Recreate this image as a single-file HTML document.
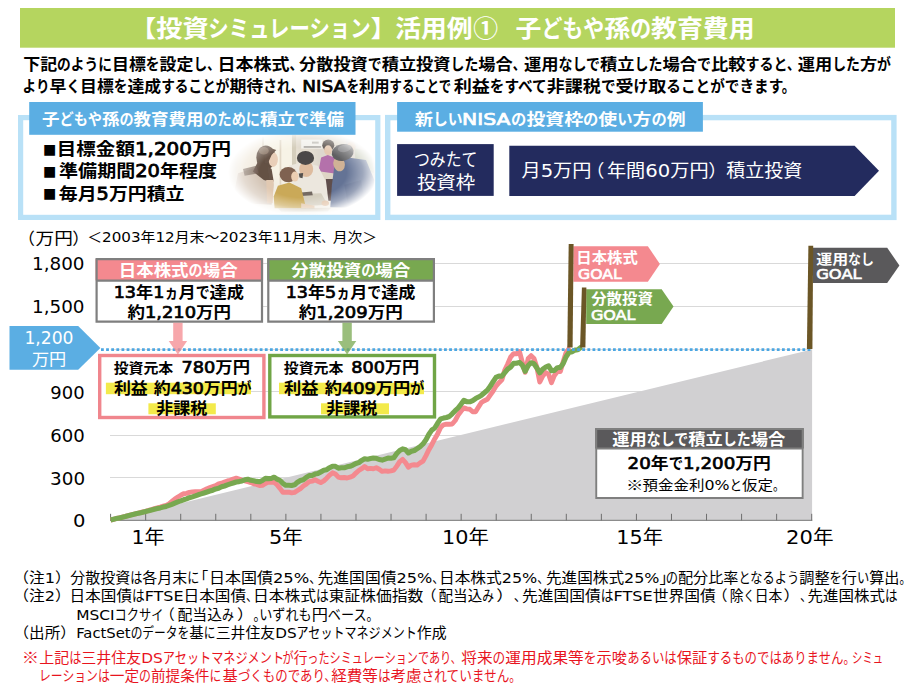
<!DOCTYPE html>
<html lang="ja">
<head>
<meta charset="utf-8">
<title>投資シミュレーション 活用例① 子どもや孫の教育費用</title>
<style>
html,body{margin:0;padding:0;background:#fff}
body{width:914px;height:689px;overflow:hidden}
svg{display:block}
text{white-space:pre;text-spacing-trim:space-all}
</style>
</head>
<body>
<svg width="914" height="689" viewBox="0 0 914 689" font-family='"DejaVu Sans","Liberation Sans","Noto Sans CJK JP",sans-serif'>
<rect width="914" height="689" fill="#fff"/>
<rect x="20" y="8" width="875" height="39.7" fill="#b5d55f"/>
<rect x="20.6" y="117.6" width="357.2" height="99.8" fill="#fff" stroke="#b9e1f7" stroke-width="5.2"/>
<defs>
<radialGradient id="pm" cx="0.5" cy="0.5" r="0.5"><stop offset="0" stop-color="#fff"/><stop offset="0.58" stop-color="#fff"/><stop offset="0.8" stop-color="#fff" stop-opacity="0.62"/><stop offset="1" stop-color="#fff" stop-opacity="0"/></radialGradient>
<mask id="pmask" maskUnits="userSpaceOnUse" x="225" y="128" width="156" height="92"><ellipse cx="303" cy="172.5" rx="75" ry="43.5" fill="url(#pm)"/></mask>
<filter id="pblur" x="-10%" y="-10%" width="120%" height="120%"><feGaussianBlur stdDeviation="0.75"/></filter>
<filter id="pblur2" x="-20%" y="-20%" width="140%" height="140%"><feGaussianBlur stdDeviation="2.2"/></filter>
<clipPath id="pclip"><rect x="226" y="134.8" width="149" height="80"/></clipPath>
</defs>
<g clip-path="url(#pclip)"><g mask="url(#pmask)">
<rect x="224.7" y="130.0" width="156.3" height="89.8" fill="#e4dccd"/>
<g filter="url(#pblur2)">
<rect x="261.3" y="135.0" width="33.3" height="49.9" fill="#f6f1e2"/>
<rect x="238.0" y="136.7" width="24.9" height="43.2" fill="#efe6d6"/>
<rect x="294.5" y="135.0" width="83.2" height="15.0" fill="#ddd5c6"/>
<rect x="314.5" y="146.6" width="63.2" height="33.3" fill="#d9d2c6"/>
<rect x="224.7" y="196.5" width="156.3" height="23.3" fill="#efeadf"/>
<rect x="269.6" y="179.9" width="24.9" height="20.0" fill="#f2ecdf"/>
</g>
<g filter="url(#pblur)">
<rect x="262.1" y="136.7" width="1.7" height="48.2" fill="#d9ceb8"/>
<rect x="279.6" y="140.0" width="1.7" height="44.9" fill="#dcd2be"/>
<rect x="292.0" y="135.0" width="4.2" height="36.6" fill="#cfc6b2"/>
<rect x="301.2" y="139.6" width="21.3" height="9.0" fill="#f2f0ea"/>
<rect x="303.7" y="146.3" width="17.5" height="1.3" fill="#8a8680"/>
<rect x="312.0" y="141.6" width="6.7" height="2.0" fill="#b9b6ae"/>
<ellipse cx="352.4" cy="142.0" rx="6.7" ry="6.3" fill="#d2cdc6"/>
<ellipse cx="351.4" cy="146.6" rx="4.3" ry="5.0" fill="#d9bfa6"/>
<polygon points="354.4,148.3 371.0,151.6 374.3,173.2 356.1,166.6" fill="#bfc4ae"/>
<ellipse cx="328.3" cy="145.3" rx="6.0" ry="5.7" fill="#3a302c"/>
<ellipse cx="328.1" cy="150.3" rx="4.0" ry="5.0" fill="#e2c2a6"/>
<polygon points="321.1,157.4 327.8,154.9 336.1,158.3 339.8,171.6 334.4,177.4 323.6,178.2 319.1,168.2" fill="#a85a9e"/>
<polygon points="320.5,171.6 334.4,173.6 336.1,179.9 323.6,181.9" fill="#d9cdbc"/>
<polygon points="288.7,165.8 301.2,162.4 317.8,165.8 327.8,184.9 329.4,201.5 306.2,196.5 294.5,191.5" fill="#e9e4d9"/>
<ellipse cx="306.2" cy="169.1" rx="7.0" ry="8.0" fill="#d9b290"/>
<ellipse cx="305.5" cy="157.9" rx="8.6" ry="7.0" fill="#2f2b29"/>
<polygon points="298.7,173.6 303.2,172.9 302.5,178.2 299.5,177.4" fill="#3a3430"/>
<polygon points="294.5,194.0 321.1,193.2 327.8,204.8 297.8,206.5" fill="#cfc7b6"/>
<polygon points="295.4,192.9 312.0,191.5 312.8,195.2 297.0,196.2" fill="#5b5148"/>
<ellipse cx="325.3" cy="203.2" rx="3.7" ry="2.7" fill="#dcb898"/>
<polygon points="325.8,179.1 335.8,179.1 334.4,200.7 328.4,200.7" fill="#45302f"/>
<polygon points="238.0,173.2 256.3,167.4 271.6,171.6 273.7,184.9 271.6,204.8 243.0,203.2 234.7,189.9" fill="#cdbcab"/>
<ellipse cx="265.9" cy="157.4" rx="9.6" ry="12.0" fill="#4b3527"/>
<polygon points="258.8,159.9 269.6,165.8 272.6,182.4 263.8,179.9 252.9,171.6" fill="#4b3527"/>
<ellipse cx="273.2" cy="159.6" rx="4.7" ry="7.3" fill="#e6c8ae"/>
<polygon points="265.9,146.6 276.2,150.0 271.6,154.9 267.9,163.3 264.9,163.3" fill="#4f392b"/>
<ellipse cx="263.8" cy="150.8" rx="5.0" ry="3.7" fill="#8a715c" opacity="0.7"/>
<polygon points="267.2,165.8 271.6,169.1 273.7,181.6 269.6,179.9" fill="#4f392b"/>
<polygon points="243.0,169.1 256.3,165.8 258.8,173.2 244.6,175.7" fill="#5a4334" opacity="0.7"/>
<polygon points="266.2,179.9 273.7,179.9 272.6,203.2 267.1,203.2" fill="#ddc0a6"/>
<polygon points="277.9,185.7 289.5,182.4 301.2,188.2 306.2,208.2 274.6,208.2 273.7,196.5" fill="#c29b3d"/>
<ellipse cx="288.2" cy="174.6" rx="8.6" ry="7.6" fill="#6b4a34"/>
<ellipse cx="294.9" cy="176.6" rx="3.7" ry="5.0" fill="#e8c6a6"/>
<polygon points="301.2,203.2 314.5,205.7 314.5,209.0 301.2,208.2" fill="#e0bf9f"/>
<polygon points="334.4,165.8 347.7,157.4 366.0,159.9 374.3,179.9 371.0,208.2 330.3,207.3 331.9,184.9" fill="#4b5d84"/>
<ellipse cx="339.1" cy="164.1" rx="5.7" ry="7.3" fill="#c9a685" transform="rotate(-15 339.1 164.1)"/>
<ellipse cx="342.7" cy="152.5" rx="11.0" ry="8.3" fill="#454446" transform="rotate(-10 342.7 152.5)"/>
<ellipse cx="344.4" cy="148.3" rx="6.7" ry="3.7" fill="#77767a" transform="rotate(-10 344.4 148.3)" opacity="0.7"/>
<polygon points="344.4,184.9 361.0,179.9 364.4,199.8 347.7,203.2" fill="#3f5078" opacity="0.7"/>
<polygon points="277.9,208.2 331.1,207.8 327.8,211.5 281.2,211.8" fill="#b9ad98" opacity="0.6"/>
</g>
<rect x="226" y="130" width="150" height="90" fill="#fff" opacity="0.14"/>
</g></g>
<rect x="29.2" y="102" width="326.3" height="32.8" fill="#5baee3"/>
<rect x="387.7" y="117.6" width="506.2" height="99.8" fill="#fff" stroke="#b9e1f7" stroke-width="5.4"/>
<rect x="397.1" y="102" width="305.8" height="29.7" fill="#5baee3"/>
<rect x="397.1" y="144.1" width="96.6" height="51.8" fill="#232b5e"/>
<polygon points="509.3,145.8 854.6,145.8 879,170.8 854.6,195.9 509.3,195.9" fill="#232b5e"/>
<line x1="110.0" y1="263.50" x2="808.7" y2="263.50" stroke="#d9d9d9" stroke-width="1"/>
<line x1="110.0" y1="306.50" x2="808.7" y2="306.50" stroke="#d9d9d9" stroke-width="1"/>
<line x1="110.0" y1="391.50" x2="808.7" y2="391.50" stroke="#d9d9d9" stroke-width="1"/>
<line x1="110.0" y1="435.50" x2="808.7" y2="435.50" stroke="#d9d9d9" stroke-width="1"/>
<line x1="110.0" y1="477.50" x2="808.7" y2="477.50" stroke="#d9d9d9" stroke-width="1"/>
<polygon points="110.6,520.4 812.1,349.4 812.1,520.4" fill="#d1d0d2"/>
<line x1="110.6" y1="349.6" x2="811.7" y2="349.6" stroke="#e0dcd8" stroke-width="1"/>
<line x1="110.0" y1="520.4" x2="812.3" y2="520.4" stroke="#8c8c8c" stroke-width="1.2"/>
<path d="M110.60 520.4V513.8M145.66 520.4V513.8M180.71 520.4V513.8M215.76 520.4V513.8M250.82 520.4V513.8M285.88 520.4V513.8M320.93 520.4V513.8M355.99 520.4V513.8M391.04 520.4V513.8M426.10 520.4V513.8M461.15 520.4V513.8M496.21 520.4V513.8M531.26 520.4V513.8M566.31 520.4V513.8M601.37 520.4V513.8M636.43 520.4V513.8M671.48 520.4V513.8M706.53 520.4V513.8M741.59 520.4V513.8M776.64 520.4V513.8M811.70 520.4V513.8" stroke="#6e6e6e" stroke-width="1" fill="none"/>
<polyline points="110.6,520.0 113.5,519.3 116.4,518.5 119.4,517.8 122.3,517.1 125.2,516.4 128.1,515.6 131.0,514.9 134.0,514.2 136.9,513.5 139.8,512.7 142.7,512.0 145.6,511.3 148.6,510.4 151.5,509.6 154.4,508.7 157.3,507.9 160.2,507.1 163.2,506.2 166.1,505.4 169.0,503.9 171.9,501.5 174.8,499.0 177.8,497.0 180.7,495.3 183.6,493.8 186.5,493.4 189.4,492.4 192.4,491.9 195.3,491.6 198.2,491.7 201.1,491.6 204.0,490.1 207.0,488.7 209.9,487.6 212.8,486.6 215.7,485.6 218.6,483.9 221.6,483.2 224.5,482.0 227.4,481.0 230.3,480.3 233.2,479.0 236.2,478.2 239.1,479.1 242.0,480.1 244.9,480.8 247.8,481.7 250.8,482.6 253.7,483.8 256.6,484.4 259.5,485.5 262.4,485.3 265.4,483.5 268.3,482.1 271.2,482.4 274.1,482.4 277.0,484.7 280.0,488.4 282.9,492.3 285.8,492.2 288.7,492.2 291.6,492.9 294.6,492.3 297.5,490.5 300.4,488.7 303.3,486.0 306.2,484.1 309.2,481.7 312.1,481.2 315.0,479.8 317.9,481.2 320.8,482.6 323.8,480.9 326.7,478.2 329.6,475.1 332.5,472.8 335.4,474.0 338.4,477.1 341.3,477.8 344.2,477.5 347.1,478.0 350.0,477.2 353.0,476.0 355.9,473.1 358.8,470.5 361.7,468.7 364.6,466.6 367.6,468.7 370.5,468.4 373.4,468.8 376.3,467.8 379.2,469.3 382.2,471.4 385.1,470.9 388.0,471.3 390.9,470.9 393.8,470.1 396.8,466.1 399.7,461.6 402.6,459.4 405.5,462.6 408.4,467.2 411.4,465.1 414.3,464.7 417.2,465.1 420.1,462.9 423.0,461.2 426.0,455.6 428.9,449.7 431.8,444.7 434.7,438.9 437.6,433.9 440.6,427.4 443.5,424.8 446.4,424.2 449.3,424.3 452.2,424.0 455.2,420.5 458.1,415.1 461.0,411.2 463.9,407.9 466.8,408.9 469.8,409.2 472.7,411.8 475.6,411.7 478.5,407.0 481.4,402.5 484.4,400.7 487.3,399.3 490.2,395.2 493.1,391.1 496.0,386.1 499.0,382.7 501.9,379.8 504.8,370.0 507.7,364.0 510.6,357.1 513.6,353.7 516.5,353.8 519.4,351.5 522.3,362.1 525.2,372.3 528.2,358.5 531.1,355.7 534.0,358.5 536.9,367.4 539.8,382.0 542.8,375.9 545.7,372.6 548.6,374.2 551.5,382.7 554.4,375.4 557.4,371.5 560.3,371.5 563.2,361.7 566.1,352.5 569.0,348.6 570.0,347.6" fill="none" stroke="#f4898f" stroke-width="4.9" stroke-linejoin="round" stroke-linecap="butt"/>
<polyline points="110.6,520.0 113.5,519.3 116.4,518.6 119.4,517.9 122.3,517.2 125.2,516.5 128.1,515.7 131.0,515.0 134.0,514.3 136.9,513.6 139.8,512.9 142.7,512.2 145.6,511.5 148.6,510.8 151.5,510.0 154.4,509.3 157.3,508.6 160.2,507.9 163.2,507.1 166.1,506.4 169.0,505.4 171.9,504.3 174.8,503.1 177.8,501.9 180.7,500.9 183.6,499.8 186.5,498.9 189.4,497.7 192.4,496.9 195.3,495.9 198.2,494.8 201.1,493.9 204.0,493.0 207.0,492.0 209.9,491.0 212.8,490.2 215.7,488.9 218.6,488.3 221.6,486.8 224.5,486.0 227.4,484.9 230.3,483.9 233.2,483.0 236.2,482.0 239.1,481.6 242.0,480.9 244.9,479.8 247.8,479.2 250.8,480.3 253.7,480.7 256.6,481.4 259.5,481.8 262.4,480.5 265.4,478.4 268.3,478.6 271.2,478.5 274.1,477.2 277.0,479.1 280.0,480.5 282.9,483.4 285.8,485.3 288.7,485.3 291.6,485.5 294.6,484.8 297.5,482.2 300.4,480.5 303.3,479.7 306.2,477.4 309.2,475.6 312.1,475.5 315.0,474.1 317.9,473.5 320.8,471.9 323.8,470.2 326.7,469.7 329.6,467.7 332.5,466.2 335.4,466.3 338.4,468.2 341.3,467.8 344.2,467.8 347.1,466.8 350.0,466.3 353.0,465.1 355.9,463.5 358.8,462.6 361.7,460.4 364.6,458.8 367.6,459.2 370.5,458.6 373.4,458.1 376.3,458.3 379.2,459.5 382.2,460.1 385.1,459.1 388.0,458.1 390.9,458.3 393.8,457.8 396.8,453.5 399.7,450.5 402.6,448.9 405.5,449.8 408.4,453.0 411.4,451.3 414.3,450.5 417.2,448.6 420.1,446.6 423.0,443.9 426.0,439.7 428.9,434.3 431.8,430.1 434.7,428.0 437.6,423.3 440.6,418.9 443.5,418.1 446.4,417.5 449.3,416.5 452.2,413.8 455.2,410.7 458.1,408.0 461.0,404.2 463.9,400.3 466.8,401.6 469.8,401.8 472.7,400.6 475.6,398.6 478.5,397.1 481.4,395.3 484.4,392.7 487.3,390.2 490.2,386.4 493.1,381.7 496.0,377.4 499.0,376.0 501.9,376.1 504.8,372.6 507.7,369.1 510.6,367.1 513.6,363.4 516.5,363.2 519.4,362.4 522.3,365.2 525.2,371.3 528.2,365.5 531.1,362.7 534.0,363.7 536.9,368.0 539.8,372.9 542.8,369.1 545.7,367.2 548.6,365.9 551.5,370.6 554.4,370.5 557.4,367.7 560.3,367.4 563.2,363.5 566.1,356.7 569.0,352.5 572.0,351.8 574.9,350.1 577.8,349.7 580.7,347.4 581.8,346.8" fill="none" stroke="#78a850" stroke-width="5.1" stroke-linejoin="round" stroke-linecap="butt"/>
<line x1="101" y1="349.6" x2="812.2" y2="349.6" stroke="#4ba6e2" stroke-width="2.6" stroke-dasharray="2.8 2.32"/>
<polygon points="9.5,326 78.2,326 100.4,347.9 78.2,369.7 9.5,369.7" fill="#5baee3"/>
<rect x="95.5" y="258.2" width="167.6" height="64.4" fill="#fff"/>
<rect x="95.5" y="259" width="167.6" height="21.4" fill="#f4898f"/>
<path d="M96.6 259.2H262.0V321.6H96.6ZM96.6 280.6H262.0" fill="none" stroke="#7f7f7f" stroke-width="2.2"/>
<rect x="267.2" y="258.2" width="167.8" height="64.4" fill="#fff"/>
<rect x="267.2" y="259" width="167.8" height="21.4" fill="#78a850"/>
<path d="M268.3 259.2H433.9V321.6H268.3ZM268.3 280.6H433.9" fill="none" stroke="#7f7f7f" stroke-width="2.2"/>
<polygon points="173.2,322.8 182.6,322.8 182.6,341 187.1,341 177.9,354.6 168.7,341 173.2,341" fill="#f4898f" fill-opacity="0.75"/>
<polygon points="342.4,322.8 351.8,322.8 351.8,341 356.3,341 347.1,354.6 337.9,341 342.4,341" fill="#78a850" fill-opacity="0.75"/>
<rect x="99.7" y="355.5" width="164.2" height="62" fill="none" stroke="#f0868d" stroke-width="3.4"/>
<rect x="269.8" y="355.5" width="164.7" height="61.4" fill="none" stroke="#70a546" stroke-width="3.4"/>
<rect x="105.9" y="382.7" width="145.1" height="11.5" fill="#f3ea4b"/>
<rect x="148.4" y="403.3" width="67.4" height="11.0" fill="#f3ea4b"/>
<rect x="279.0" y="382.7" width="145.0" height="11.5" fill="#f3ea4b"/>
<rect x="321.0" y="403.3" width="68.0" height="11.0" fill="#f3ea4b"/>
<polygon points="573.4,246.2 647.9,246.2 659.9,264 647.9,281.7 573.4,281.7" fill="#f4898f"/>
<polygon points="586.2,289.2 661.7,289.2 673.5,306.6 661.7,324 586.2,324" fill="#78a850"/>
<polygon points="813,247.8 887.2,247.8 899.4,265.4 887.2,282.9 813,282.9" fill="#5a595b"/>
<polygon points="568.7,243.9 573.6,243.9 572.6,347.6 567.3,347.6" fill="#6b5626"/>
<polygon points="581.9,287.6 586.4,287.6 585.4,347.4 580.1,347.4" fill="#6b5626"/>
<polygon points="808.4,245.8 813.2,245.8 812.4,349 806.9,349" fill="#6b5626"/>
<rect x="595.2" y="428.1" width="208.5" height="70.9" fill="#fff"/>
<rect x="595.2" y="428.1" width="208.5" height="20.5" fill="#5a595b"/>
<path d="M596.2 429.1H802.7V498H596.2ZM596.2 448.6H802.7" fill="none" stroke="#7f7f7f" stroke-width="2"/>
<text aria-label="【投資シミュレーション】活用例①子どもや孫の教育費用" y="37.41" font-size="23.5" font-weight="bold" fill="#ffffff"><tspan x="130.05" textLength="26.19" lengthAdjust="spacingAndGlyphs">【</tspan><tspan textLength="52.37" lengthAdjust="spacingAndGlyphs">投資</tspan><tspan x="208.35" textLength="162.31" lengthAdjust="spacingAndGlyphs">シミュレーション</tspan><tspan textLength="25.17" lengthAdjust="spacingAndGlyphs">】</tspan><tspan x="395.2" textLength="77.34" lengthAdjust="spacingAndGlyphs">活用例</tspan><tspan x="473.25" font-family='"Noto Sans CJK JP",sans-serif' textLength="24.78" lengthAdjust="spacingAndGlyphs">①</tspan><tspan x="515.5" textLength="25.88" lengthAdjust="spacingAndGlyphs">子</tspan><tspan textLength="62.89" lengthAdjust="spacingAndGlyphs">どもや</tspan><tspan textLength="25.88" lengthAdjust="spacingAndGlyphs">孫</tspan><tspan textLength="20.96" lengthAdjust="spacingAndGlyphs">の</tspan><tspan textLength="103.52" lengthAdjust="spacingAndGlyphs">教育費用</tspan></text>
<text aria-label="下記のように目標を設定し、日本株式、分散投資で積立投資した場合、運用なしで積立した場合で比較すると、運用した方が" y="69.86" font-size="15.99" font-weight="bold" fill="#000000"><tspan x="23.25" textLength="33.87" lengthAdjust="spacingAndGlyphs">下記</tspan><tspan textLength="54.87" lengthAdjust="spacingAndGlyphs">のように</tspan><tspan textLength="33.87" lengthAdjust="spacingAndGlyphs">目標</tspan><tspan textLength="13.72" lengthAdjust="spacingAndGlyphs">を</tspan><tspan textLength="33.87" lengthAdjust="spacingAndGlyphs">設定</tspan><tspan textLength="13.72" lengthAdjust="spacingAndGlyphs">し</tspan><tspan textLength="12.7" lengthAdjust="spacingAndGlyphs">、</tspan><tspan x="217.45" textLength="72.15" lengthAdjust="spacingAndGlyphs">日本株式</tspan><tspan textLength="13.53" lengthAdjust="spacingAndGlyphs">、</tspan><tspan x="299.05" textLength="68.75" lengthAdjust="spacingAndGlyphs">分散投資</tspan><tspan textLength="13.92" lengthAdjust="spacingAndGlyphs">で</tspan><tspan textLength="68.75" lengthAdjust="spacingAndGlyphs">積立投資</tspan><tspan textLength="27.84" lengthAdjust="spacingAndGlyphs">した</tspan><tspan textLength="34.37" lengthAdjust="spacingAndGlyphs">場合</tspan><tspan textLength="12.89" lengthAdjust="spacingAndGlyphs">、</tspan><tspan x="524.0" textLength="34.53" lengthAdjust="spacingAndGlyphs">運用</tspan><tspan textLength="41.54" lengthAdjust="spacingAndGlyphs">なしで</tspan><tspan textLength="34.53" lengthAdjust="spacingAndGlyphs">積立</tspan><tspan textLength="27.97" lengthAdjust="spacingAndGlyphs">した</tspan><tspan textLength="34.53" lengthAdjust="spacingAndGlyphs">場合</tspan><tspan textLength="13.98" lengthAdjust="spacingAndGlyphs">で</tspan><tspan textLength="34.53" lengthAdjust="spacingAndGlyphs">比較</tspan><tspan textLength="41.41" lengthAdjust="spacingAndGlyphs">すると</tspan><tspan textLength="12.95" lengthAdjust="spacingAndGlyphs">、</tspan><tspan x="797.8" textLength="34.33" lengthAdjust="spacingAndGlyphs">運用</tspan><tspan textLength="27.81" lengthAdjust="spacingAndGlyphs">した</tspan><tspan textLength="17.16" lengthAdjust="spacingAndGlyphs">方</tspan><tspan textLength="13.9" lengthAdjust="spacingAndGlyphs">が</tspan></text>
<text aria-label="より早く目標を達成することが期待され、NISAを利用することで利益をすべて非課税で受け取ることができます。" y="91.86" font-size="15.99" font-weight="bold" fill="#000000"><tspan x="22.5" textLength="27.05" lengthAdjust="spacingAndGlyphs">より</tspan><tspan textLength="16.86" lengthAdjust="spacingAndGlyphs">早</tspan><tspan textLength="13.66" lengthAdjust="spacingAndGlyphs">く</tspan><tspan textLength="33.73" lengthAdjust="spacingAndGlyphs">目標</tspan><tspan textLength="13.66" lengthAdjust="spacingAndGlyphs">を</tspan><tspan textLength="33.73" lengthAdjust="spacingAndGlyphs">達成</tspan><tspan textLength="68.3" lengthAdjust="spacingAndGlyphs">することが</tspan><tspan textLength="33.73" lengthAdjust="spacingAndGlyphs">期待</tspan><tspan textLength="27.47" lengthAdjust="spacingAndGlyphs">され</tspan><tspan textLength="12.65" lengthAdjust="spacingAndGlyphs">、</tspan><tspan x="302.2" font-size="15.99" font-weight="normal" stroke="#000000" stroke-width="0.72" textLength="43.88" lengthAdjust="spacingAndGlyphs">NISA</tspan><tspan x="346.7" textLength="12.37" lengthAdjust="spacingAndGlyphs">を</tspan><tspan textLength="30.55" lengthAdjust="spacingAndGlyphs">利用</tspan><tspan textLength="61.51" lengthAdjust="spacingAndGlyphs">することで</tspan><tspan x="453.7" textLength="36.12" lengthAdjust="spacingAndGlyphs">利益</tspan><tspan textLength="56.91" lengthAdjust="spacingAndGlyphs">をすべて</tspan><tspan textLength="54.18" lengthAdjust="spacingAndGlyphs">非課税</tspan><tspan textLength="14.63" lengthAdjust="spacingAndGlyphs">で</tspan><tspan textLength="18.06" lengthAdjust="spacingAndGlyphs">受</tspan><tspan textLength="14.63" lengthAdjust="spacingAndGlyphs">け</tspan><tspan textLength="18.06" lengthAdjust="spacingAndGlyphs">取</tspan><tspan textLength="115.57" lengthAdjust="spacingAndGlyphs">ることができます</tspan><tspan textLength="13.55" lengthAdjust="spacingAndGlyphs">。</tspan></text>
<text aria-label="子どもや孫の教育費用のために積立で準備" y="124.56" font-size="15.98" font-weight="bold" fill="#ffffff"><tspan x="42.05" textLength="17.47" lengthAdjust="spacingAndGlyphs">子</tspan><tspan textLength="42.43" lengthAdjust="spacingAndGlyphs">どもや</tspan><tspan textLength="17.47" lengthAdjust="spacingAndGlyphs">孫</tspan><tspan textLength="14.15" lengthAdjust="spacingAndGlyphs">の</tspan><tspan textLength="69.84" lengthAdjust="spacingAndGlyphs">教育費用</tspan><tspan textLength="56.57" lengthAdjust="spacingAndGlyphs">のために</tspan><tspan textLength="34.93" lengthAdjust="spacingAndGlyphs">積立</tspan><tspan textLength="14.15" lengthAdjust="spacingAndGlyphs">で</tspan><tspan textLength="34.93" lengthAdjust="spacingAndGlyphs">準備</tspan></text>
<text aria-label="■" y="153.53" font-size="14.1" fill="#000000"><tspan x="42.95" font-size="14.1" textLength="13.27" lengthAdjust="spacingAndGlyphs">■</tspan></text>
<text aria-label="■" y="175.82" font-size="14.1" fill="#000000"><tspan x="42.95" font-size="14.1" textLength="13.27" lengthAdjust="spacingAndGlyphs">■</tspan></text>
<text aria-label="■" y="198.12" font-size="14.1" fill="#000000"><tspan x="42.95" font-size="14.1" textLength="13.27" lengthAdjust="spacingAndGlyphs">■</tspan></text>
<text aria-label="目標金額1,200万円" y="155.16" font-size="17.58" font-weight="bold" fill="#000000"><tspan x="56.85" textLength="78.06" lengthAdjust="spacingAndGlyphs">目標金額</tspan><tspan font-size="17.95" font-weight="normal" stroke="#000000" stroke-width="0.81" textLength="57.02" lengthAdjust="spacingAndGlyphs">1,200</tspan><tspan textLength="39.03" lengthAdjust="spacingAndGlyphs">万円</tspan></text>
<text aria-label="準備期間20年程度" y="177.46" font-size="17.58" font-weight="bold" fill="#000000"><tspan x="59.1" textLength="76.12" lengthAdjust="spacingAndGlyphs">準備期間</tspan><tspan font-size="17.95" font-weight="normal" stroke="#000000" stroke-width="0.81" textLength="24.71" lengthAdjust="spacingAndGlyphs">20</tspan><tspan textLength="57.09" lengthAdjust="spacingAndGlyphs">年程度</tspan></text>
<text aria-label="毎月5万円積立" y="199.76" font-size="17.58" font-weight="bold" fill="#000000"><tspan x="58.85" textLength="37.78" lengthAdjust="spacingAndGlyphs">毎月</tspan><tspan font-size="17.95" font-weight="normal" stroke="#000000" stroke-width="0.81" textLength="12.28" lengthAdjust="spacingAndGlyphs">5</tspan><tspan textLength="75.57" lengthAdjust="spacingAndGlyphs">万円積立</tspan></text>
<text aria-label="新しいNISAの投資枠の使い方の例" y="125.06" font-size="15.98" font-weight="bold" fill="#ffffff"><tspan x="414.7" textLength="18.3" lengthAdjust="spacingAndGlyphs">新</tspan><tspan textLength="29.63" lengthAdjust="spacingAndGlyphs">しい</tspan><tspan x="462.0" font-size="16.32" font-weight="normal" stroke="#ffffff" stroke-width="0.73" textLength="48.4" lengthAdjust="spacingAndGlyphs">NISA</tspan><tspan x="511.1" textLength="15.31" lengthAdjust="spacingAndGlyphs">の</tspan><tspan textLength="56.65" lengthAdjust="spacingAndGlyphs">投資枠</tspan><tspan textLength="15.31" lengthAdjust="spacingAndGlyphs">の</tspan><tspan textLength="18.9" lengthAdjust="spacingAndGlyphs">使</tspan><tspan textLength="15.31" lengthAdjust="spacingAndGlyphs">い</tspan><tspan textLength="18.9" lengthAdjust="spacingAndGlyphs">方</tspan><tspan textLength="15.31" lengthAdjust="spacingAndGlyphs">の</tspan><tspan textLength="18.9" lengthAdjust="spacingAndGlyphs">例</tspan></text>
<text aria-label="つみたて" y="166.0" font-size="17.95" fill="#ffffff"><tspan x="413.95" textLength="63.48" lengthAdjust="spacingAndGlyphs">つみたて</tspan></text>
<text aria-label="投資枠" y="189.1" font-size="17.95" fill="#ffffff"><tspan x="416.95" textLength="58.2" lengthAdjust="spacingAndGlyphs">投資枠</tspan></text>
<text aria-label="月5万円（年間60万円）積立投資" y="177.2" font-size="17.67" fill="#ffffff"><tspan x="521.45" textLength="19.2" lengthAdjust="spacingAndGlyphs">月</tspan><tspan font-size="18.05" textLength="12.48" lengthAdjust="spacingAndGlyphs">5</tspan><tspan textLength="38.38" lengthAdjust="spacingAndGlyphs">万円</tspan><tspan x="585.7" textLength="18.73" lengthAdjust="spacingAndGlyphs">（</tspan><tspan x="606.9" textLength="38.38" lengthAdjust="spacingAndGlyphs">年間</tspan><tspan font-size="18.05" textLength="24.94" lengthAdjust="spacingAndGlyphs">60</tspan><tspan textLength="38.38" lengthAdjust="spacingAndGlyphs">万円</tspan><tspan x="708.3" textLength="18.73" lengthAdjust="spacingAndGlyphs">）</tspan><tspan x="726.2" textLength="76.0" lengthAdjust="spacingAndGlyphs">積立投資</tspan></text>
<text aria-label="（万円）" y="243.87" font-size="16.28" fill="#000000"><tspan x="17.7" textLength="17.24" lengthAdjust="spacingAndGlyphs">（</tspan><tspan x="35.55" textLength="37.33" lengthAdjust="spacingAndGlyphs">万円</tspan><tspan x="72.25" textLength="17.24" lengthAdjust="spacingAndGlyphs">）</tspan></text>
<text aria-label="＜2003年12月末～2023年11月末、月次＞" y="242.22" font-size="13.76" fill="#000000"><tspan x="87.25" textLength="14.84" lengthAdjust="spacingAndGlyphs">＜</tspan><tspan font-size="14.06" textLength="38.54" lengthAdjust="spacingAndGlyphs">2003</tspan><tspan textLength="14.84" lengthAdjust="spacingAndGlyphs">年</tspan><tspan font-size="14.06" textLength="19.27" lengthAdjust="spacingAndGlyphs">12</tspan><tspan textLength="44.48" lengthAdjust="spacingAndGlyphs">月末～</tspan><tspan font-size="14.06" textLength="38.54" lengthAdjust="spacingAndGlyphs">2023</tspan><tspan textLength="14.84" lengthAdjust="spacingAndGlyphs">年</tspan><tspan font-size="14.06" textLength="19.27" lengthAdjust="spacingAndGlyphs">11</tspan><tspan textLength="29.66" lengthAdjust="spacingAndGlyphs">月末</tspan><tspan textLength="11.13" lengthAdjust="spacingAndGlyphs">、</tspan><tspan textLength="44.48" lengthAdjust="spacingAndGlyphs">月次＞</tspan></text>
<text aria-label="1,800" y="270.02" font-size="18.2" fill="#000000"><tspan x="32.0" font-size="18.2" textLength="52.56" lengthAdjust="spacingAndGlyphs">1,800</tspan></text>
<text aria-label="1,500" y="313.12" font-size="18.2" fill="#000000"><tspan x="32.0" font-size="18.2" textLength="52.56" lengthAdjust="spacingAndGlyphs">1,500</tspan></text>
<text aria-label="900" y="399.32" font-size="18.2" fill="#000000"><tspan x="50.35" font-size="18.2" textLength="34.29" lengthAdjust="spacingAndGlyphs">900</tspan></text>
<text aria-label="600" y="441.92" font-size="18.2" fill="#000000"><tspan x="50.35" font-size="18.2" textLength="34.5" lengthAdjust="spacingAndGlyphs">600</tspan></text>
<text aria-label="300" y="484.72" font-size="18.2" fill="#000000"><tspan x="50.1" font-size="18.2" textLength="35.05" lengthAdjust="spacingAndGlyphs">300</tspan></text>
<text aria-label="0" y="526.92" font-size="18.2" fill="#000000"><tspan x="72.95" font-size="18.2" textLength="12.46" lengthAdjust="spacingAndGlyphs">0</tspan></text>
<text aria-label="1,200" y="343.66" font-size="17.2" fill="#ffffff"><tspan x="24.4" font-size="17.2" textLength="49.11" lengthAdjust="spacingAndGlyphs">1,200</tspan></text>
<text aria-label="万円" y="364.59" font-size="15.81" fill="#ffffff"><tspan x="31.95" textLength="34.32" lengthAdjust="spacingAndGlyphs">万円</tspan></text>
<text aria-label="日本株式の場合" y="276.16" font-size="15.98" font-weight="bold" fill="#ffffff"><tspan x="118.75" textLength="69.8" lengthAdjust="spacingAndGlyphs">日本株式</tspan><tspan textLength="14.14" lengthAdjust="spacingAndGlyphs">の</tspan><tspan textLength="34.91" lengthAdjust="spacingAndGlyphs">場合</tspan></text>
<text aria-label="13年1ヵ月で達成" y="298.06" font-size="15.98" font-weight="bold" fill="#000000"><tspan x="113.7" font-size="16.32" font-weight="normal" stroke="#000000" stroke-width="0.73" textLength="22.37" lengthAdjust="spacingAndGlyphs">13</tspan><tspan textLength="17.22" lengthAdjust="spacingAndGlyphs">年</tspan><tspan font-size="16.32" font-weight="normal" stroke="#000000" stroke-width="0.73" textLength="11.19" lengthAdjust="spacingAndGlyphs">1</tspan><tspan textLength="13.95" lengthAdjust="spacingAndGlyphs">ヵ</tspan><tspan textLength="17.22" lengthAdjust="spacingAndGlyphs">月</tspan><tspan textLength="13.95" lengthAdjust="spacingAndGlyphs">で</tspan><tspan textLength="34.42" lengthAdjust="spacingAndGlyphs">達成</tspan></text>
<text aria-label="約1,210万円" y="317.76" font-size="15.98" font-weight="bold" fill="#000000"><tspan x="127.45" textLength="17.48" lengthAdjust="spacingAndGlyphs">約</tspan><tspan font-size="16.32" font-weight="normal" stroke="#000000" stroke-width="0.73" textLength="51.09" lengthAdjust="spacingAndGlyphs">1,210</tspan><tspan textLength="34.95" lengthAdjust="spacingAndGlyphs">万円</tspan></text>
<text aria-label="分散投資の場合" y="276.16" font-size="15.98" font-weight="bold" fill="#ffffff"><tspan x="291.25" textLength="69.91" lengthAdjust="spacingAndGlyphs">分散投資</tspan><tspan textLength="14.17" lengthAdjust="spacingAndGlyphs">の</tspan><tspan textLength="34.96" lengthAdjust="spacingAndGlyphs">場合</tspan></text>
<text aria-label="13年5ヵ月で達成" y="298.06" font-size="15.98" font-weight="bold" fill="#000000"><tspan x="285.7" font-size="16.32" font-weight="normal" stroke="#000000" stroke-width="0.73" textLength="22.28" lengthAdjust="spacingAndGlyphs">13</tspan><tspan textLength="17.15" lengthAdjust="spacingAndGlyphs">年</tspan><tspan font-size="16.32" font-weight="normal" stroke="#000000" stroke-width="0.73" textLength="11.15" lengthAdjust="spacingAndGlyphs">5</tspan><tspan textLength="13.89" lengthAdjust="spacingAndGlyphs">ヵ</tspan><tspan textLength="17.15" lengthAdjust="spacingAndGlyphs">月</tspan><tspan textLength="13.89" lengthAdjust="spacingAndGlyphs">で</tspan><tspan textLength="34.28" lengthAdjust="spacingAndGlyphs">達成</tspan></text>
<text aria-label="約1,209万円" y="317.76" font-size="15.98" font-weight="bold" fill="#000000"><tspan x="298.75" textLength="17.57" lengthAdjust="spacingAndGlyphs">約</tspan><tspan font-size="16.32" font-weight="normal" stroke="#000000" stroke-width="0.73" textLength="51.34" lengthAdjust="spacingAndGlyphs">1,209</tspan><tspan textLength="35.12" lengthAdjust="spacingAndGlyphs">万円</tspan></text>
<text aria-label="投資元本780万円" y="373.26" font-size="15.98" font-weight="bold" fill="#000000"><tspan x="113.65" font-size="14.1" textLength="59.55" lengthAdjust="spacingAndGlyphs">投資元本</tspan><tspan x="181.5" font-size="16.32" font-weight="normal" stroke="#000000" stroke-width="0.73" textLength="33.8" lengthAdjust="spacingAndGlyphs">780</tspan><tspan textLength="34.68" lengthAdjust="spacingAndGlyphs">万円</tspan></text>
<text aria-label="利益 約430万円が" y="393.86" font-size="15.98" font-weight="bold" fill="#000000"><tspan x="113.9" textLength="33.91" lengthAdjust="spacingAndGlyphs">利益</tspan><tspan textLength="5.9" lengthAdjust="spacingAndGlyphs"> </tspan><tspan textLength="16.96" lengthAdjust="spacingAndGlyphs">約</tspan><tspan font-size="16.32" font-weight="normal" stroke="#000000" stroke-width="0.73" textLength="33.05" lengthAdjust="spacingAndGlyphs">430</tspan><tspan textLength="33.91" lengthAdjust="spacingAndGlyphs">万円</tspan><tspan textLength="13.74" lengthAdjust="spacingAndGlyphs">が</tspan></text>
<text aria-label="非課税" y="414.06" font-size="15.98" font-weight="bold" fill="#000000"><tspan x="156.2" textLength="51.19" lengthAdjust="spacingAndGlyphs">非課税</tspan></text>
<text aria-label="投資元本800万円" y="373.26" font-size="15.98" font-weight="bold" fill="#000000"><tspan x="283.75" font-size="14.1" textLength="59.55" lengthAdjust="spacingAndGlyphs">投資元本</tspan><tspan x="351.25" font-size="16.32" font-weight="normal" stroke="#000000" stroke-width="0.73" textLength="33.63" lengthAdjust="spacingAndGlyphs">800</tspan><tspan textLength="34.51" lengthAdjust="spacingAndGlyphs">万円</tspan></text>
<text aria-label="利益 約409万円が" y="393.86" font-size="15.98" font-weight="bold" fill="#000000"><tspan x="284.0" textLength="34.62" lengthAdjust="spacingAndGlyphs">利益</tspan><tspan textLength="6.03" lengthAdjust="spacingAndGlyphs"> </tspan><tspan textLength="17.32" lengthAdjust="spacingAndGlyphs">約</tspan><tspan font-size="16.32" font-weight="normal" stroke="#000000" stroke-width="0.73" textLength="33.74" lengthAdjust="spacingAndGlyphs">409</tspan><tspan textLength="34.62" lengthAdjust="spacingAndGlyphs">万円</tspan><tspan textLength="14.03" lengthAdjust="spacingAndGlyphs">が</tspan></text>
<text aria-label="非課税" y="414.06" font-size="15.98" font-weight="bold" fill="#000000"><tspan x="326.2" textLength="51.19" lengthAdjust="spacingAndGlyphs">非課税</tspan></text>
<text aria-label="日本株式" y="263.09" font-size="14.48" font-weight="bold" fill="#ffffff"><tspan x="576.35" textLength="61.54" lengthAdjust="spacingAndGlyphs">日本株式</tspan></text>
<text aria-label="GOAL" y="278.78" font-size="14.48" font-weight="bold" fill="#ffffff"><tspan x="578.1" font-size="14.78" font-weight="normal" stroke="#ffffff" stroke-width="0.67" textLength="43.61" lengthAdjust="spacingAndGlyphs">GOAL</tspan></text>
<text aria-label="分散投資" y="304.49" font-size="14.48" font-weight="bold" fill="#ffffff"><tspan x="591.15" textLength="61.94" lengthAdjust="spacingAndGlyphs">分散投資</tspan></text>
<text aria-label="GOAL" y="320.18" font-size="14.48" font-weight="bold" fill="#ffffff"><tspan x="590.9" font-size="14.78" font-weight="normal" stroke="#ffffff" stroke-width="0.67" textLength="44.62" lengthAdjust="spacingAndGlyphs">GOAL</tspan></text>
<text aria-label="運用なし" y="264.17" font-size="13.63" font-weight="bold" fill="#ffffff"><tspan x="816.2" textLength="31.9" lengthAdjust="spacingAndGlyphs">運用</tspan><tspan textLength="25.84" lengthAdjust="spacingAndGlyphs">なし</tspan></text>
<text aria-label="GOAL" y="279.47" font-size="13.63" font-weight="bold" fill="#ffffff"><tspan x="816.2" font-size="13.92" font-weight="normal" stroke="#ffffff" stroke-width="0.63" textLength="45.49" lengthAdjust="spacingAndGlyphs">GOAL</tspan></text>
<text aria-label="運用なしで積立した場合" y="445.26" font-size="15.98" font-weight="bold" fill="#ffffff"><tspan x="612.3" textLength="34.51" lengthAdjust="spacingAndGlyphs">運用</tspan><tspan textLength="41.5" lengthAdjust="spacingAndGlyphs">なしで</tspan><tspan textLength="34.51" lengthAdjust="spacingAndGlyphs">積立</tspan><tspan textLength="27.95" lengthAdjust="spacingAndGlyphs">した</tspan><tspan textLength="34.51" lengthAdjust="spacingAndGlyphs">場合</tspan></text>
<text aria-label="20年で1,200万円" y="469.26" font-size="15.98" font-weight="bold" fill="#000000"><tspan x="627.6" font-size="16.32" font-weight="normal" stroke="#000000" stroke-width="0.73" textLength="23.19" lengthAdjust="spacingAndGlyphs">20</tspan><tspan textLength="17.85" lengthAdjust="spacingAndGlyphs">年</tspan><tspan textLength="14.46" lengthAdjust="spacingAndGlyphs">で</tspan><tspan font-size="16.32" font-weight="normal" stroke="#000000" stroke-width="0.73" textLength="52.15" lengthAdjust="spacingAndGlyphs">1,200</tspan><tspan textLength="35.68" lengthAdjust="spacingAndGlyphs">万円</tspan></text>
<text aria-label="※預金金利0%と仮定。" y="490.06" font-size="14.14" fill="#000000"><tspan x="626.1" font-family='"Noto Sans CJK JP",sans-serif' textLength="17.39" lengthAdjust="spacingAndGlyphs">※</tspan><tspan x="642.5" textLength="61.95" lengthAdjust="spacingAndGlyphs">預金金利</tspan><tspan font-size="14.44" textLength="25.11" lengthAdjust="spacingAndGlyphs">0%</tspan><tspan textLength="12.55" lengthAdjust="spacingAndGlyphs">と</tspan><tspan textLength="30.98" lengthAdjust="spacingAndGlyphs">仮定</tspan><tspan textLength="11.62" lengthAdjust="spacingAndGlyphs">。</tspan></text>
<text aria-label="1年" y="544.43" font-size="19.07" fill="#000000"><tspan x="131.45" font-size="19.47" textLength="13.05" lengthAdjust="spacingAndGlyphs">1</tspan><tspan textLength="20.09" lengthAdjust="spacingAndGlyphs">年</tspan></text>
<text aria-label="5年" y="544.43" font-size="19.07" fill="#000000"><tspan x="269.0" font-size="19.47" textLength="13.27" lengthAdjust="spacingAndGlyphs">5</tspan><tspan textLength="20.43" lengthAdjust="spacingAndGlyphs">年</tspan></text>
<text aria-label="10年" y="544.43" font-size="19.07" fill="#000000"><tspan x="442.05" font-size="19.47" textLength="26.47" lengthAdjust="spacingAndGlyphs">10</tspan><tspan textLength="20.39" lengthAdjust="spacingAndGlyphs">年</tspan></text>
<text aria-label="15年" y="544.43" font-size="19.07" fill="#000000"><tspan x="616.35" font-size="19.47" textLength="26.35" lengthAdjust="spacingAndGlyphs">15</tspan><tspan textLength="20.3" lengthAdjust="spacingAndGlyphs">年</tspan></text>
<text aria-label="20年" y="544.43" font-size="19.07" fill="#000000"><tspan x="786.1" font-size="19.47" textLength="26.8" lengthAdjust="spacingAndGlyphs">20</tspan><tspan textLength="20.64" lengthAdjust="spacingAndGlyphs">年</tspan></text>
<text aria-label="（注1）分散投資は各月末に「日本国債25%、先進国国債25%、日本株式25%、先進国株式25%」の配分比率となるよう調整を行い算出。" y="582.57" font-size="14.42" fill="#000000"><tspan x="13.3" textLength="15.76" lengthAdjust="spacingAndGlyphs">（</tspan><tspan textLength="15.76" lengthAdjust="spacingAndGlyphs">注</tspan><tspan font-size="14.72" textLength="10.25" lengthAdjust="spacingAndGlyphs">1</tspan><tspan textLength="15.76" lengthAdjust="spacingAndGlyphs">）</tspan><tspan x="70.2" textLength="59.93" lengthAdjust="spacingAndGlyphs">分散投資</tspan><tspan textLength="12.13" lengthAdjust="spacingAndGlyphs">は</tspan><tspan textLength="44.94" lengthAdjust="spacingAndGlyphs">各月末</tspan><tspan textLength="12.13" lengthAdjust="spacingAndGlyphs">に</tspan><tspan dx="-0.42em" textLength="14.98" lengthAdjust="spacingAndGlyphs">「</tspan><tspan x="208.95" textLength="64.02" lengthAdjust="spacingAndGlyphs">日本国債</tspan><tspan font-size="14.72" textLength="36.35" lengthAdjust="spacingAndGlyphs">25%</tspan><tspan textLength="12.0" lengthAdjust="spacingAndGlyphs">、</tspan><tspan x="317.55" textLength="78.9" lengthAdjust="spacingAndGlyphs">先進国国債</tspan><tspan font-size="14.72" textLength="35.84" lengthAdjust="spacingAndGlyphs">25%</tspan><tspan textLength="11.83" lengthAdjust="spacingAndGlyphs">、</tspan><tspan x="438.95" textLength="62.76" lengthAdjust="spacingAndGlyphs">日本株式</tspan><tspan font-size="14.72" textLength="35.63" lengthAdjust="spacingAndGlyphs">25%</tspan><tspan textLength="11.77" lengthAdjust="spacingAndGlyphs">、</tspan><tspan x="545.95" textLength="78.11" lengthAdjust="spacingAndGlyphs">先進国株式</tspan><tspan font-size="14.72" textLength="35.48" lengthAdjust="spacingAndGlyphs">25%</tspan><tspan textLength="15.62" lengthAdjust="spacingAndGlyphs">」</tspan><tspan x="665.7" textLength="12.25" lengthAdjust="spacingAndGlyphs">の</tspan><tspan textLength="60.47" lengthAdjust="spacingAndGlyphs">配分比率</tspan><tspan textLength="60.87" lengthAdjust="spacingAndGlyphs">となるよう</tspan><tspan textLength="30.24" lengthAdjust="spacingAndGlyphs">調整</tspan><tspan textLength="12.25" lengthAdjust="spacingAndGlyphs">を</tspan><tspan textLength="15.12" lengthAdjust="spacingAndGlyphs">行</tspan><tspan textLength="12.25" lengthAdjust="spacingAndGlyphs">い</tspan><tspan textLength="30.24" lengthAdjust="spacingAndGlyphs">算出</tspan><tspan textLength="11.34" lengthAdjust="spacingAndGlyphs">。</tspan></text>
<text aria-label="（注2）日本国債はFTSE日本国債、日本株式は東証株価指数（配当込み）、先進国国債はFTSE世界国債（除く日本）、先進国株式は" y="600.77" font-size="14.42" fill="#000000"><tspan x="13.3" textLength="15.76" lengthAdjust="spacingAndGlyphs">（</tspan><tspan textLength="15.76" lengthAdjust="spacingAndGlyphs">注</tspan><tspan font-size="14.72" textLength="10.25" lengthAdjust="spacingAndGlyphs">2</tspan><tspan textLength="15.76" lengthAdjust="spacingAndGlyphs">）</tspan><tspan x="69.55" textLength="62.48" lengthAdjust="spacingAndGlyphs">日本国債</tspan><tspan textLength="12.65" lengthAdjust="spacingAndGlyphs">は</tspan><tspan font-size="14.72" textLength="38.86" lengthAdjust="spacingAndGlyphs">FTSE</tspan><tspan textLength="62.48" lengthAdjust="spacingAndGlyphs">日本国債</tspan><tspan textLength="11.72" lengthAdjust="spacingAndGlyphs">、</tspan><tspan x="252.95" textLength="63.0" lengthAdjust="spacingAndGlyphs">日本株式</tspan><tspan textLength="12.76" lengthAdjust="spacingAndGlyphs">は</tspan><tspan textLength="94.5" lengthAdjust="spacingAndGlyphs">東証株価指数</tspan><tspan x="421.2" textLength="15.27" lengthAdjust="spacingAndGlyphs">（</tspan><tspan x="438.55" textLength="43.62" lengthAdjust="spacingAndGlyphs">配当込</tspan><tspan textLength="11.78" lengthAdjust="spacingAndGlyphs">み</tspan><tspan x="496.3" textLength="17.54" lengthAdjust="spacingAndGlyphs">）</tspan><tspan textLength="13.15" lengthAdjust="spacingAndGlyphs">、</tspan><tspan x="521.95" textLength="78.77" lengthAdjust="spacingAndGlyphs">先進国国債</tspan><tspan textLength="12.76" lengthAdjust="spacingAndGlyphs">は</tspan><tspan font-size="14.72" textLength="39.2" lengthAdjust="spacingAndGlyphs">FTSE</tspan><tspan textLength="63.02" lengthAdjust="spacingAndGlyphs">世界国債</tspan><tspan x="712.2" textLength="15.27" lengthAdjust="spacingAndGlyphs">（</tspan><tspan x="729.7" textLength="13.8" lengthAdjust="spacingAndGlyphs">除</tspan><tspan textLength="11.18" lengthAdjust="spacingAndGlyphs">く</tspan><tspan textLength="27.6" lengthAdjust="spacingAndGlyphs">日本</tspan><tspan x="783.55" textLength="16.33" lengthAdjust="spacingAndGlyphs">）</tspan><tspan textLength="12.25" lengthAdjust="spacingAndGlyphs">、</tspan><tspan x="807.55" textLength="77.37" lengthAdjust="spacingAndGlyphs">先進国株式</tspan><tspan textLength="12.53" lengthAdjust="spacingAndGlyphs">は</tspan></text>
<text aria-label="MSCIコクサイ（配当込み）。いずれも円ベース。" y="619.57" font-size="14.42" fill="#000000"><tspan x="76.2" font-size="14.72" textLength="38.39" lengthAdjust="spacingAndGlyphs">MSCI</tspan><tspan textLength="48.86" lengthAdjust="spacingAndGlyphs">コクサイ</tspan><tspan x="159.5" textLength="15.27" lengthAdjust="spacingAndGlyphs">（</tspan><tspan x="177.55" textLength="44.43" lengthAdjust="spacingAndGlyphs">配当込</tspan><tspan textLength="12.0" lengthAdjust="spacingAndGlyphs">み</tspan><tspan x="236.95" textLength="16.46" lengthAdjust="spacingAndGlyphs">）</tspan><tspan textLength="12.35" lengthAdjust="spacingAndGlyphs">。</tspan><tspan x="259.25" textLength="52.43" lengthAdjust="spacingAndGlyphs">いずれも</tspan><tspan textLength="16.18" lengthAdjust="spacingAndGlyphs">円</tspan><tspan textLength="38.67" lengthAdjust="spacingAndGlyphs">ベース</tspan><tspan textLength="12.14" lengthAdjust="spacingAndGlyphs">。</tspan></text>
<text aria-label="（出所）FactSetのデータを基に三井住友DSアセットマネジメント作成" y="638.47" font-size="14.42" fill="#000000"><tspan x="13.55" textLength="15.57" lengthAdjust="spacingAndGlyphs">（</tspan><tspan textLength="31.14" lengthAdjust="spacingAndGlyphs">出所</tspan><tspan textLength="15.57" lengthAdjust="spacingAndGlyphs">）</tspan><tspan x="76.2" font-size="14.72" textLength="54.43" lengthAdjust="spacingAndGlyphs">FactSet</tspan><tspan textLength="58.62" lengthAdjust="spacingAndGlyphs">のデータを</tspan><tspan textLength="14.48" lengthAdjust="spacingAndGlyphs">基</tspan><tspan textLength="11.72" lengthAdjust="spacingAndGlyphs">に</tspan><tspan x="215.7" textLength="59.49" lengthAdjust="spacingAndGlyphs">三井住友</tspan><tspan font-size="14.72" textLength="21.36" lengthAdjust="spacingAndGlyphs">DS</tspan><tspan textLength="120.24" lengthAdjust="spacingAndGlyphs">アセットマネジメント</tspan><tspan textLength="29.75" lengthAdjust="spacingAndGlyphs">作成</tspan></text>
<text aria-label="※上記は三井住友DSアセットマネジメントが行ったシミュレーションであり、将来の運用成果等を示唆あるいは保証するものではありません。シミュ" y="662.87" font-size="14.42" fill="#e8141e"><tspan x="21.8" font-family='"Noto Sans CJK JP",sans-serif' textLength="17.29" lengthAdjust="spacingAndGlyphs">※</tspan><tspan x="39.25" textLength="29.98" lengthAdjust="spacingAndGlyphs">上記</tspan><tspan textLength="12.14" lengthAdjust="spacingAndGlyphs">は</tspan><tspan textLength="59.96" lengthAdjust="spacingAndGlyphs">三井住友</tspan><tspan font-size="14.72" textLength="21.53" lengthAdjust="spacingAndGlyphs">DS</tspan><tspan textLength="121.19" lengthAdjust="spacingAndGlyphs">アセットマネジメント</tspan><tspan x="282.55" textLength="11.1" lengthAdjust="spacingAndGlyphs">が</tspan><tspan textLength="13.71" lengthAdjust="spacingAndGlyphs">行</tspan><tspan textLength="143.35" lengthAdjust="spacingAndGlyphs">ったシミュレーションであり</tspan><tspan textLength="10.28" lengthAdjust="spacingAndGlyphs">、</tspan><tspan x="461.2" textLength="31.39" lengthAdjust="spacingAndGlyphs">将来</tspan><tspan textLength="12.71" lengthAdjust="spacingAndGlyphs">の</tspan><tspan textLength="78.48" lengthAdjust="spacingAndGlyphs">運用成果等</tspan><tspan textLength="12.71" lengthAdjust="spacingAndGlyphs">を</tspan><tspan x="596.55" textLength="30.62" lengthAdjust="spacingAndGlyphs">示唆</tspan><tspan textLength="49.6" lengthAdjust="spacingAndGlyphs">あるいは</tspan><tspan textLength="30.62" lengthAdjust="spacingAndGlyphs">保証</tspan><tspan textLength="136.04" lengthAdjust="spacingAndGlyphs">するものではありません</tspan><tspan textLength="11.48" lengthAdjust="spacingAndGlyphs">。</tspan><tspan x="852.05" textLength="31.02" lengthAdjust="spacingAndGlyphs">シミュ</tspan></text>
<text aria-label="レーションは一定の前提条件に基づくものであり、経費等は考慮されていません。" y="681.27" font-size="14.42" fill="#e8141e"><tspan x="38.95" textLength="70.86" lengthAdjust="spacingAndGlyphs">レーションは</tspan><tspan textLength="29.25" lengthAdjust="spacingAndGlyphs">一定</tspan><tspan textLength="11.85" lengthAdjust="spacingAndGlyphs">の</tspan><tspan textLength="58.51" lengthAdjust="spacingAndGlyphs">前提条件</tspan><tspan textLength="11.85" lengthAdjust="spacingAndGlyphs">に</tspan><tspan x="222.55" textLength="15.36" lengthAdjust="spacingAndGlyphs">基</tspan><tspan textLength="86.47" lengthAdjust="spacingAndGlyphs">づくものであり</tspan><tspan textLength="11.52" lengthAdjust="spacingAndGlyphs">、</tspan><tspan x="331.2" textLength="46.73" lengthAdjust="spacingAndGlyphs">経費等</tspan><tspan textLength="12.62" lengthAdjust="spacingAndGlyphs">は</tspan><tspan textLength="31.15" lengthAdjust="spacingAndGlyphs">考慮</tspan><tspan textLength="87.57" lengthAdjust="spacingAndGlyphs">されていません</tspan><tspan textLength="11.68" lengthAdjust="spacingAndGlyphs">。</tspan></text>
</svg>
</body>
</html>
